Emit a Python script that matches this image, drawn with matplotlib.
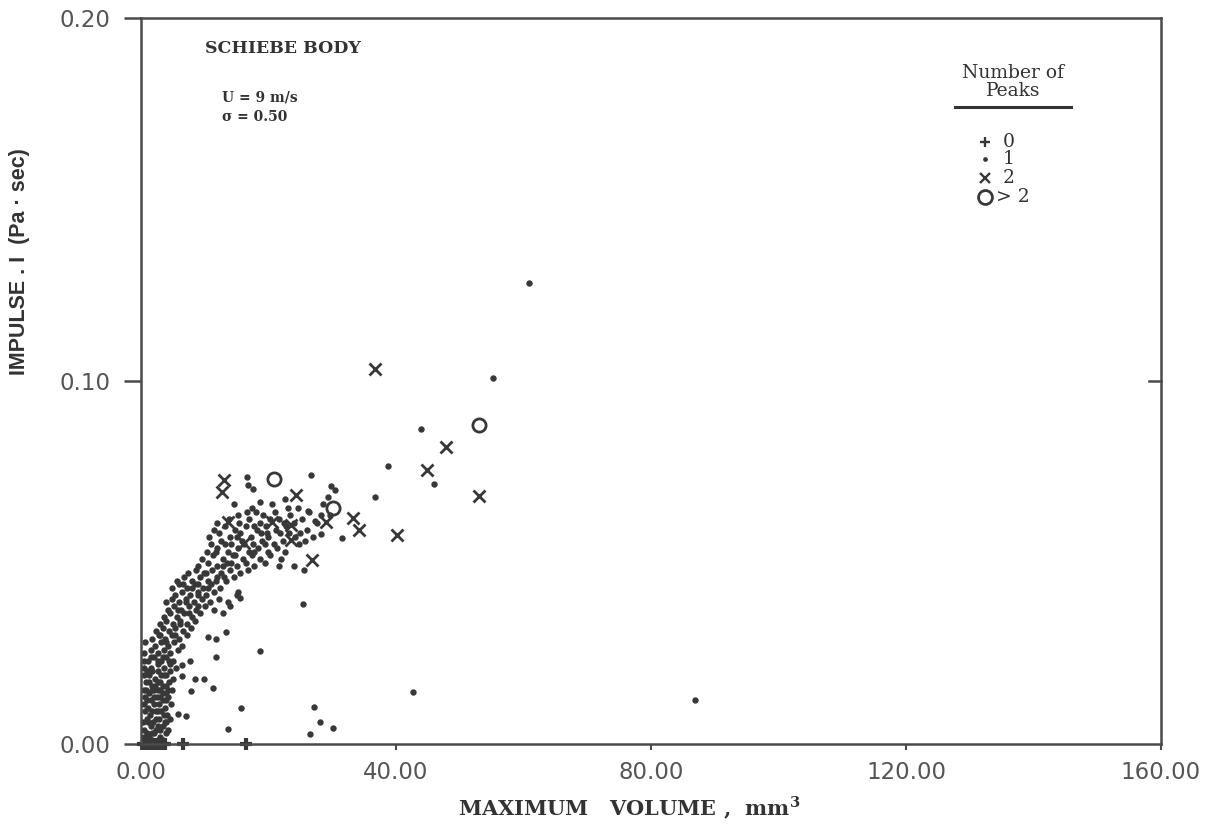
import matplotlib
matplotlib.use("Agg")
import matplotlib.pyplot as plt
from matplotlib.lines import Line2D

# ---------------- data ----------------
# 0 peaks (+) : all at zero impulse
zero_x = [0.3, 0.7, 1.1, 1.5, 1.9, 2.3, 2.7, 3.1, 3.5, 3.8, 6.6, 16.5]
zero_y = [0.0, 0.0, 0.0, 0.0, 0.0, 0.0, 0.0, 0.0, 0.0, 0.0, 0.0, 0.0]

# 1 peak (dots)
one_pts = [
    # dense block near origin
    (0.4, 0.002), (1.2, 0.002), (2.1, 0.003), (3.0, 0.002), (3.9, 0.003),
    (0.5, 0.004), (1.5, 0.005), (2.4, 0.004), (3.4, 0.005), (4.3, 0.004),
    (0.3, 0.006), (0.9, 0.007), (1.9, 0.006), (2.8, 0.007), (3.7, 0.006), (4.6, 0.007),
    (0.6, 0.009), (1.4, 0.008), (2.3, 0.009), (3.2, 0.009), (4.1, 0.008),
    (0.4, 0.011), (1.1, 0.010), (2.0, 0.011), (2.9, 0.011), (3.8, 0.010), (4.7, 0.011),
    (0.7, 0.013), (1.6, 0.012), (2.5, 0.013), (3.4, 0.012), (4.3, 0.013),
    (0.4, 0.015), (1.3, 0.014), (2.1, 0.015), (3.0, 0.015), (3.9, 0.014), (4.8, 0.015),
    (0.8, 0.017), (1.7, 0.016), (2.6, 0.017), (3.5, 0.016), (4.4, 0.017),
    (0.4, 0.019), (1.3, 0.019), (2.2, 0.018), (3.1, 0.019), (4.0, 0.019), (5.1, 0.018),
    (0.8, 0.001), (1.7, 0.001), (2.6, 0.001), (3.5, 0.001), (0.9, 0.003), (1.7, 0.003),
    (2.6, 0.005), (3.0, 0.004), (4.0, 0.006), (1.1, 0.006), (2.4, 0.007), (1.8, 0.009),
    (2.7, 0.009), (3.6, 0.008), (0.9, 0.012), (2.0, 0.013), (3.0, 0.013), (3.9, 0.012),
    (0.8, 0.015), (1.7, 0.015), (2.6, 0.015), (3.4, 0.014), (4.3, 0.015), (1.2, 0.017),
    (2.2, 0.016), (3.0, 0.017), (4.0, 0.016), (0.9, 0.020), (1.8, 0.020), (2.7, 0.020),
    (3.6, 0.019), (4.5, 0.020), (0.4, 0.023), (1.6, 0.024), (2.6, 0.023), (3.5, 0.024),
    (4.4, 0.023),
    # band 0.02 - 0.03
    (0.5, 0.021), (1.6, 0.021), (2.6, 0.022), (3.6, 0.021), (4.5, 0.022), (5.5, 0.021),
    (1.1, 0.023), (2.1, 0.024), (3.1, 0.023), (4.0, 0.024), (5.0, 0.023),
    (0.4, 0.025), (1.6, 0.026), (2.7, 0.025), (3.6, 0.026), (4.6, 0.025), (5.8, 0.026),
    (2.2, 0.027), (3.2, 0.028), (4.2, 0.027), (5.2, 0.028), (6.5, 0.027),
    (0.6, 0.028), (1.7, 0.029), (2.8, 0.030), (3.8, 0.029), (4.8, 0.030), (6.0, 0.029), (7.2, 0.030),
    # band 0.03 - 0.04
    (2.4, 0.031), (3.4, 0.032), (4.4, 0.031), (5.4, 0.032), (6.6, 0.031), (7.8, 0.032),
    (3.0, 0.033), (4.0, 0.034), (5.0, 0.033), (6.1, 0.034), (7.2, 0.033), (8.5, 0.034),
    (3.6, 0.035), (4.6, 0.036), (5.7, 0.035), (6.8, 0.036), (8.0, 0.035), (9.3, 0.036),
    (4.2, 0.037), (5.2, 0.038), (6.3, 0.037), (7.5, 0.038), (8.7, 0.037), (10.0, 0.038),
    (11.5, 0.037), (12.8, 0.036), (14.0, 0.038),
    (3.9, 0.039), (4.9, 0.040), (6.0, 0.039), (7.1, 0.040), (8.3, 0.039), (9.5, 0.040), (10.8, 0.039),
    (12.2, 0.040), (13.6, 0.039), (15.0, 0.041),
    (3.0, 0.030), (4.0, 0.028), (5.4, 0.030), (6.2, 0.033), (7.6, 0.036), (8.9, 0.038),
    (7.0, 0.039), (5.8, 0.037),
    # band 0.04 - 0.05
    (5.3, 0.041), (6.5, 0.042), (7.7, 0.041), (8.9, 0.042), (10.2, 0.041), (11.5, 0.042),
    (4.8, 0.043), (6.0, 0.044), (7.2, 0.043), (8.4, 0.044), (9.7, 0.043), (11.0, 0.044), (12.4, 0.043),
    (5.6, 0.045), (6.8, 0.046), (8.0, 0.045), (9.2, 0.046), (10.5, 0.045), (11.9, 0.046), (13.3, 0.045), (14.6, 0.046),
    (7.4, 0.047), (8.6, 0.048), (9.9, 0.047), (11.2, 0.048), (12.6, 0.047), (14.0, 0.048), (15.5, 0.047), (16.8, 0.048),
    (9.0, 0.041), (10.5, 0.043), (11.8, 0.045), (10.2, 0.047), (13.0, 0.046),
    (6.6, 0.044), (8.0, 0.043), (9.0, 0.044),
    # band 0.048 - 0.056
    (9.0, 0.049), (10.5, 0.050), (12.0, 0.049), (13.5, 0.050), (15.0, 0.049), (16.4, 0.050), (17.8, 0.049),
    (19.5, 0.050), (21.6, 0.049), (24.0, 0.049), (25.5, 0.048),
    (9.6, 0.051), (11.3, 0.052), (12.8, 0.051), (14.4, 0.052), (16.0, 0.051), (17.4, 0.052), (18.6, 0.051),
    (20.2, 0.052), (22.0, 0.051),
    (10.4, 0.053), (12.0, 0.054), (13.7, 0.053), (15.2, 0.054), (16.9, 0.053), (18.4, 0.054), (19.9, 0.053),
    (21.4, 0.054), (22.6, 0.053),
    (11.0, 0.055), (12.6, 0.056), (14.2, 0.055), (15.8, 0.056), (17.5, 0.055), (19.0, 0.056), (20.8, 0.055),
    (22.3, 0.056), (24.8, 0.055),
    (12.8, 0.049), (14.2, 0.050), (14.8, 0.052), (16.2, 0.055), (13.2, 0.055), (11.8, 0.053),
    (19.5, 0.055), (17.8, 0.053),
    # band 0.056 - 0.066
    (10.6, 0.057), (12.2, 0.058), (13.9, 0.057), (15.6, 0.058), (17.2, 0.057), (18.8, 0.058), (20.0, 0.057),
    (21.8, 0.058), (24.2, 0.057), (25.0, 0.058),
    (11.5, 0.059), (13.2, 0.060), (14.8, 0.059), (16.4, 0.060), (18.2, 0.059), (19.6, 0.060), (21.2, 0.059),
    (22.8, 0.060), (26.0, 0.059),
    (12.0, 0.061), (13.8, 0.062), (15.4, 0.061), (17.0, 0.062), (18.6, 0.061), (20.2, 0.062), (22.4, 0.061),
    (25.2, 0.062), (27.6, 0.061),
    (15.2, 0.063), (16.6, 0.064), (19.2, 0.063), (21.0, 0.064), (23.4, 0.063), (26.4, 0.064), (28.2, 0.063),
    (14.6, 0.066), (17.4, 0.065), (20.6, 0.066), (24.6, 0.065), (28.6, 0.066),
    (15.0, 0.057), (17.8, 0.060), (19.8, 0.058), (23.2, 0.058), (21.6, 0.062), (18.0, 0.064),
    (23.0, 0.065), (24.0, 0.061),
    (29.8, 0.071), (29.4, 0.068), (30.4, 0.070), (29.6, 0.063),
    # scattered individual dots
    (16.7, 0.0735), (16.8, 0.0713), (17.6, 0.0703), (26.7, 0.0740), (18.7, 0.0667), (22.6, 0.0676),
    (26.2, 0.0642), (27.3, 0.0614), (31.5, 0.0568), (25.7, 0.0558), (27.0, 0.0570), (28.3, 0.0579),
    (36.7, 0.0681), (38.7, 0.0767), (44.0, 0.0869), (45.9, 0.0716), (55.2, 0.1007), (60.9, 0.1270),
    (25.4, 0.0386), (18.7, 0.0256), (42.7, 0.0144), (86.9, 0.0121),
    (27.2, 0.0103), (28.1, 0.0060), (30.2, 0.0044), (26.5, 0.0028),
    (15.7, 0.0099), (13.6, 0.0041), (11.3, 0.0154), (9.9, 0.0180), (7.8, 0.0146), (8.5, 0.0180),
    (5.8, 0.0083), (7.1, 0.0077), (6.4, 0.0188), (6.4, 0.0218), (7.7, 0.0229),
    (11.8, 0.0240), (11.8, 0.0290), (10.5, 0.0295), (13.3, 0.0309), (15.5, 0.0403), (15.2, 0.0420),
]
one_x = [p[0] for p in one_pts]
one_y = [p[1] for p in one_pts]

# 2 peaks (x)
two_x = [36.7, 47.8, 44.8, 53.1, 40.1, 33.3, 34.2, 24.3, 29.0, 20.6, 23.5, 23.6,
         13.1, 12.7, 16.1, 26.9, 13.7]
two_y = [0.1032, 0.0818, 0.0756, 0.0683, 0.0577, 0.0623, 0.0590, 0.0687, 0.0612, 0.0612, 0.0602, 0.0561,
         0.0728, 0.0694, 0.0553, 0.0508, 0.0612]

# more than 2 peaks (o)
many_x = [53.1, 20.8, 30.1]
many_y = [0.0878, 0.0729, 0.0650]

x_ticks = [0, 40, 80, 120, 160]
x_tick_labels = ["0.00", "40.00", "80.00", "120.00", "160.00"]
y_ticks = [0.0, 0.1, 0.2]
y_tick_labels = ["0.00", "0.10", "0.20"]

# ---------------- drawing ----------------
INK = "#383838"
SERIF = ["DejaVu Serif"]

fig = plt.figure(figsize=(12.11, 8.33), dpi=100)
ax = fig.add_axes([0.1164, 0.1068, 0.8423, 0.8716])

ax.plot(one_x, one_y, linestyle="none", marker="o", markersize=4.6,
        color=INK, markeredgewidth=0)
ax.plot(two_x, two_y, linestyle="none", marker="x", markersize=8,
        color=INK, markeredgewidth=2.0)
ax.plot(many_x, many_y, linestyle="none", marker="o", markersize=9.5,
        markerfacecolor="none", markeredgecolor=INK, markeredgewidth=2.0)
ax.plot(zero_x, zero_y, linestyle="none", marker="+", markersize=9,
        color=INK, markeredgewidth=3.0, clip_on=False)

ax.set_xlim(0, 160)
ax.set_ylim(0, 0.2)

for s in ax.spines.values():
    s.set_color("#4a4a4a")
    s.set_linewidth(1.8)

ax.set_xticks(x_ticks)
ax.set_xticklabels(x_tick_labels)
ax.set_yticks(y_ticks)
ax.set_yticklabels(y_tick_labels)
ax.tick_params(axis="x", which="both", direction="out", length=4, width=1.5,
               color="#4a4a4a", labelsize=16.5, labelcolor="#555555", pad=8,
               top=False)
ax.tick_params(axis="y", which="both", direction="out", length=12, width=1.8,
               color="#4a4a4a", labelsize=16.5, labelcolor="#555555", pad=10)
# right-side inward tick at 0.10
ax.plot([1.0, 0.988], [0.5, 0.5], transform=ax.transAxes, color="#4a4a4a",
        lw=1.8, clip_on=False)

# axis titles
ax.text(0.479, -0.088, r"MAXIMUM   VOLUME ,  mm$^{\mathregular{3}}$", transform=ax.transAxes,
        ha="center", va="center", fontsize=15, fontweight="bold",
        family=SERIF, color="#333333")
ax.text(-0.1186, 0.664, "IMPULSE . I  (Pa · sec)", transform=ax.transAxes,
        ha="center", va="center", rotation=90, fontsize=15.5, fontweight="bold",
        family=["Liberation Sans", "DejaVu Sans"], color="#333333")

# annotation block
ax.text(0.0627, 0.958, "SCHIEBE BODY", transform=ax.transAxes, ha="left", va="center",
        fontsize=12.5, fontweight="bold", family=SERIF, color="#333333")
ax.text(0.0794, 0.890, "U = 9 m/s", transform=ax.transAxes, ha="left", va="center",
        fontsize=10, fontweight="bold", family=SERIF, color="#333333")
ax.text(0.0794, 0.864, "σ = 0.50", transform=ax.transAxes, ha="left", va="center",
        fontsize=10, fontweight="bold", family=SERIF, color="#333333")

# legend block
def axpt(px, py):
    return ((px - 141) / 1020.0, (744 - py) / 726.0)

lx, ly = axpt(1013, 73)
ax.text(lx, ly, "Number of", transform=ax.transAxes, ha="center", va="center",
        fontsize=13.5, family=SERIF, color="#333333")
lx, ly = axpt(1013, 91)
ax.text(lx, ly, "Peaks", transform=ax.transAxes, ha="center", va="center",
        fontsize=13.5, family=SERIF, color="#333333")
x0, yl = axpt(955, 107)
x1, _ = axpt(1071, 107)
ax.add_line(Line2D([x0, x1], [yl, yl], transform=ax.transAxes, color="#333333", lw=2.2))

rows = [("+", "0", 142), ("•", "1", 159), ("x", "2", 178), ("o", "> 2", 197)]
for sym, lab, py in rows:
    sx, sy = axpt(985, py)
    if sym == "•":
        ax.plot([sx], [sy], transform=ax.transAxes, marker="o", markersize=3.4,
                color=INK, markeredgewidth=0, linestyle="none")
    elif sym == "o":
        ax.plot([sx], [sy], transform=ax.transAxes, marker="o", markersize=10,
                markerfacecolor="none", markeredgecolor=INK, markeredgewidth=2.0,
                linestyle="none")
    else:
        ax.plot([sx], [sy], transform=ax.transAxes, marker=sym, markersize=7.5,
                color=INK, markeredgewidth=1.7, linestyle="none")
    tx, ty = axpt(1009 if lab != "> 2" else 996, py)
    ax.text(tx, ty, lab, transform=ax.transAxes, ha="center" if lab != "> 2" else "left",
            va="center", fontsize=13.5, family=SERIF, color="#333333")

fig.savefig("out.png", dpi=100)
